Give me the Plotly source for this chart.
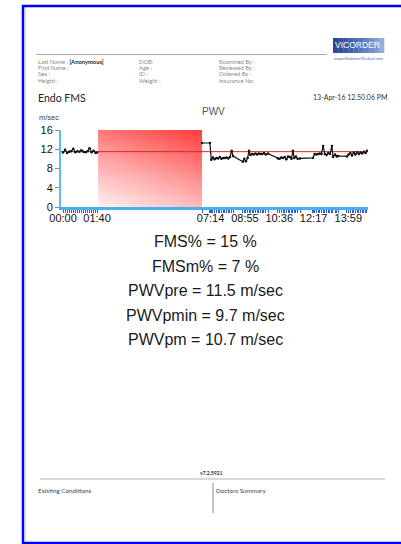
import numpy as np
import plotly.graph_objects as go

# ---------------- data ----------------
# PWV samples (seconds from start, m/sec); None marks the cuff-occlusion gap
t_sec = [0, 6, 12, 18, 24, 30, 36, 42, 48, 54, 60, 66, 72, 78, 84, 90, 96, 100,
         102,
         409, 432, 436, 441, 446, 451, 456, 461, 466, 471, 476, 481, 486, 491, 496, 500,
         529, 533, 538, 543, 547, 551, 556, 561, 566, 571, 576, 581, 586, 591, 596, 603,
         632, 637, 642, 647, 652, 657, 662, 667, 672, 676, 680, 685, 690, 697,
         735, 740, 745, 750, 755, 760, 765, 770, 775, 780, 785, 791, 794, 800, 805, 809,
         835, 840, 845, 850, 855, 860, 865, 870, 875, 880, 885, 890, 894]
pwv = [11.3, 11.9, 11.2, 11.5, 11.6, 12.1, 11.4, 11.6, 11.5, 11.8, 11.5, 11.4, 11.6, 12.2, 11.4, 11.7, 11.2, 11.3,
       None,
       13.3, 13.3, 9.8, 10.3, 9.9, 10.2, 10.1, 10.4, 10.0, 10.2, 10.2, 10.3, 10.1, 10.4, 11.7, 10.6,
       9.4, 10.0, 9.5, 10.2, 11.7, 10.8, 11.0, 10.9, 11.1, 10.9, 11.1, 11.0, 11.0, 11.2, 10.9, 11.1,
       10.1, 10.0, 10.3, 10.2, 10.4, 9.9, 10.5, 10.4, 10.0, 11.7, 10.2, 10.5, 10.0, 10.1,
       10.2, 11.0, 10.9, 11.0, 11.1, 11.0, 12.7, 11.0, 10.8, 11.2, 11.0, 12.7, 10.4, 10.9, 10.5, 10.6,
       10.5, 10.9, 11.2, 10.7, 11.3, 10.9, 11.4, 11.0, 11.3, 11.1, 11.5, 11.2, 11.7]

occlusion_start = 103
occlusion_end = 409

x_tick_vals = [0, 100, 434, 535, 636, 737, 839]
x_tick_text = ["00:00", "01:40", "07:14", "08:55", "10:36", "12:17", "13:59"]
y_tick_vals = [0, 4, 8, 12, 16]

fms_pct = 15
fmsm_pct = 7
pwv_pre = 11.5
pwv_pmin = 9.7
pwv_pm = 10.7

header_col1 = ["Last Name : ", "First Name :", "Sex :", "Height :"]
header_col2 = ["DOB:", "Age :", "ID :", "Weight :"]
header_col3 = ["Examined By :", "Reviewed By :", "Ordered By :", "Insurance No:"]
patient_name = "[Anonymous]"
report_title = "Endo FMS"
report_date = "13-Apr-16 12.50.06 PM"
version = "v7.2.5921"

# ---------------- layout helpers ----------------
W, H = 401, 544


def px(x):
    return x / W


def py(y):
    return 1 - y / H


X0, X1 = 61, 368        # plot area pixels
Y0, Y1 = 130, 207
x_range = [-6, 897]

fig = go.Figure()

# gradient occlusion block
gx = np.linspace(occlusion_start, occlusion_end, 81)
gy = np.linspace(0, 16, 51)
u = (np.arange(80) + 0.5) / 80
v = (np.arange(50) + 0.5) / 50
gz = 0.68 * v[:, None] + 0.32 * u[None, :]
fig.add_trace(go.Heatmap(
    x=gx, y=gy, z=gz, zmin=0, zmax=1, showscale=False, hoverinfo="skip",
    colorscale=[[0, "#fff2f2"], [0.5, "#ff9a9a"], [1, "#ff3c3c"]],
    xaxis="x", yaxis="y"))

# PWVpre reference line
fig.add_trace(go.Scatter(
    x=[x_range[0], x_range[1]], y=[pwv_pre, pwv_pre], mode="lines",
    line=dict(color="#cc2a2a", width=1), hoverinfo="skip", showlegend=False))

# PWV data
fig.add_trace(go.Scatter(
    x=t_sec, y=pwv, mode="lines+markers", connectgaps=False,
    line=dict(color="#111111", width=1.2),
    marker=dict(color="#111111", size=2.5), showlegend=False))

data_times = [t for t, p in zip(t_sec, pwv) if p is not None]

fig.update_layout(
    template="none",
    width=W, height=H,
    margin=dict(l=0, r=0, t=0, b=0, pad=0, autoexpand=False),
    paper_bgcolor="white", plot_bgcolor="white",
    showlegend=False,
    xaxis=dict(
        domain=[px(X0), px(X1)], range=x_range, anchor="y", automargin=False,
        showgrid=False, zeroline=False,
        showline=True, linecolor="#4aaef2", linewidth=3,
        tickmode="array", tickvals=x_tick_vals, ticktext=x_tick_text,
        ticks="outside", ticklen=3, tickcolor="#3a5bd0", tickwidth=1,
        ticklabelstandoff=-4,
        minor=dict(tickmode="array", tickvals=data_times, ticks="outside",
                   ticklen=3, tickcolor="#3a5bd0", tickwidth=1, showgrid=False),
        tickfont=dict(family="Liberation Sans", size=11, color="#111111"),
    ),
    yaxis=dict(
        domain=[py(Y1), py(Y0)], range=[0, 16], anchor="x", automargin=False,
        showgrid=False, zeroline=False,
        showline=True, linecolor="#58bdf2", linewidth=2,
        tickmode="array", tickvals=y_tick_vals,
        ticks="outside", ticklen=4, tickcolor="#888888",
        tickfont=dict(family="Liberation Sans", size=11, color="#111111"),
    ),
)

shapes = []
# blue page frame
blue = "#0000ff"
shapes.append(dict(type="line", xref="paper", yref="paper", x0=px(23), x1=px(23),
                   y0=py(5), y1=py(544), line=dict(color=blue, width=2.5)))
shapes.append(dict(type="line", xref="paper", yref="paper", x0=px(22), x1=px(401),
                   y0=py(6), y1=py(6), line=dict(color=blue, width=2.5)))
shapes.append(dict(type="line", xref="paper", yref="paper", x0=px(22), x1=px(401),
                   y0=py(543), y1=py(543), line=dict(color=blue, width=2.5)))
shapes.append(dict(type="line", xref="paper", yref="paper", x0=px(25.5), x1=px(25.5),
                   y0=py(8), y1=py(541), line=dict(color="#e4e4e4", width=1)))
# header rule
shapes.append(dict(type="line", xref="paper", yref="paper", x0=px(36), x1=px(327),
                   y0=py(54.5), y1=py(54.5), line=dict(color="#aaaaaa", width=1)))
# logo box (stepped gradient)
logo_cols = ["#2a4a95", "#30519c", "#3759a3", "#4062ab", "#4a6cb3", "#5676bb",
             "#6482c3", "#7390ca", "#839ed2", "#95aed9"]
lx0, lx1 = 333, 384
step = (lx1 - lx0) / len(logo_cols)
for i, c in enumerate(logo_cols):
    shapes.append(dict(type="rect", xref="paper", yref="paper",
                       x0=px(lx0 + i * step), x1=px(lx0 + (i + 1) * step + 0.3),
                       y0=py(53), y1=py(38), line=dict(width=0), fillcolor=c))
# footer rules
shapes.append(dict(type="line", xref="paper", yref="paper", x0=px(40), x1=px(385),
                   y0=py(479), y1=py(479), line=dict(color="#b0b0b0", width=1)))
shapes.append(dict(type="line", xref="paper", yref="paper", x0=px(213), x1=px(213),
                   y0=py(483), y1=py(513), line=dict(color="#888888", width=1)))
fig.update_layout(shapes=shapes)

ann = []


def text(x, y, s, size, color="#333333", xanchor="left", family="Lato"):
    ann.append(dict(x=px(x), y=py(y), xref="paper", yref="paper", text=s,
                    showarrow=False, xanchor=xanchor, yanchor="middle",
                    font=dict(family=family, size=size, color=color)))


row_y = [61, 67.5, 74, 80.5]
for i, r in enumerate(row_y):
    s1 = header_col1[i]
    if i == 0:
        s1 = s1 + "<b><span style='color:#222'>" + patient_name + "</span></b>"
    text(36, r, s1, 5.8, "#8a8a8a")
    text(137, r, header_col2[i], 5.8, "#8a8a8a")
    text(217, r, header_col3[i], 5.8, "#8a8a8a")

text(357, 45.5, "VICORDER", 8.5, "white", "center", "Liberation Sans")
text(359, 58.5, "www.SkidmoreMedical.com", 4, "#4a6cb3", "center")
text(36, 98.5, report_title, 10.5, "#222222")
text(389, 97.5, report_date, 7, "#333333", "right")
text(37, 117.5, "m/sec", 7.5, "#444444", "left", "Liberation Sans")
text(213, 112, "PWV", 10, "#555555", "center", "Liberation Sans")

stats = [f"FMS% = {fms_pct} %",
         f"FMSm% = {fmsm_pct} %",
         f"PWVpre = {pwv_pre} m/sec",
         f"PWVpmin = {pwv_pmin} m/sec",
         f"PWVpm = {pwv_pm} m/sec"]
for i, s in enumerate(stats):
    text(205, 241.5 + i * 24.5, s, 16, "#1a1a1a", "center", "Liberation Sans")

text(211, 473, "<b>" + version + "</b>", 5, "#333333", "center")
text(36, 490.5, "Existing Conditions", 6.3, "#444444")
text(214, 490.5, "Doctors Summary", 6.3, "#444444")

fig.update_layout(annotations=ann)
fig.write_html("out.html",
               config={"displayModeBar": False},
               post_script="document.body.style.margin='0';document.body.style.padding='0';")
